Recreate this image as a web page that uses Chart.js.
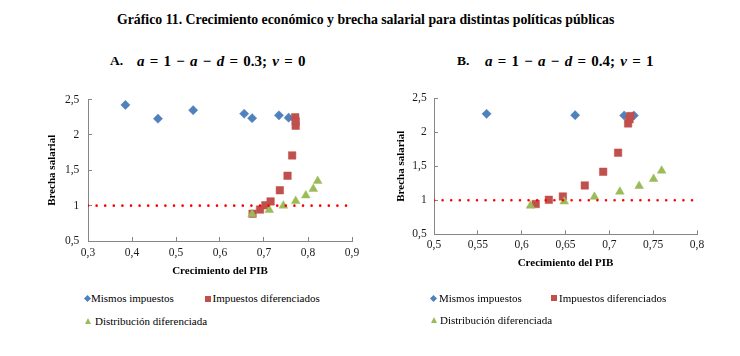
<!DOCTYPE html>
<html>
<head>
<meta charset="utf-8">
<script src="https://cdn.jsdelivr.net/npm/chart.js@4.4.0/dist/chart.umd.min.js"></script>
<style>
  html,body{margin:0;padding:0;background:#fff;}
  body{width:740px;height:356px;position:relative;overflow:hidden;font-family:"Liberation Serif","Times New Roman",serif;color:#000;}
  .t{position:absolute;white-space:nowrap;}
  #title{left:117px;top:12px;font-size:13.8px;line-height:16px;font-weight:bold;}
  .sub{font-size:13.5px;line-height:18px;font-weight:bold;top:52px;}
  .eq{font-size:15px;line-height:18px;font-weight:bold;top:52px;word-spacing:1.5px;}
  .eq i{font-style:italic;}
  canvas{position:absolute;}
  .leg{position:absolute;font-size:11px;line-height:14px;white-space:nowrap;}
  .mk{position:absolute;}
  .dia{width:5px;height:5px;background:#4F81BD;transform:rotate(45deg);}
  .sq{width:6px;height:6px;background:#C0504D;}
  .tri{width:0;height:0;border-left:3.5px solid transparent;border-right:3.5px solid transparent;border-bottom:6px solid #9BBB59;}
</style>
</head>
<body>
<div class="t" id="title">Gráfico 11. Crecimiento económico y brecha salarial para distintas políticas públicas</div>
<div class="t sub" style="left:110px;">A.</div>
<div class="t eq" style="left:137px;"><i>a</i> = 1 − <i>a</i> − <i>d</i> = 0.3; <i>v</i> = 0</div>
<div class="t sub" style="left:457px;">B.</div>
<div class="t eq" style="left:485px;"><i>a</i> = 1 − <i>a</i> − <i>d</i> = 0.4; <i>v</i> = 1</div>

<canvas id="cA" width="350" height="200" style="left:20px;top:80px;"></canvas>
<canvas id="cB" width="350" height="200" style="left:366px;top:80px;"></canvas>

<!-- legends -->
<div class="mk dia" style="left:85px;top:296px;"></div>
<div class="leg" style="left:91px;top:291px;">Mismos impuestos</div>
<div class="mk sq" style="left:205px;top:295.5px;"></div>
<div class="leg" style="left:212.5px;top:291px;">Impuestos diferenciados</div>
<div class="mk tri" style="left:84.5px;top:317.5px;"></div>
<div class="leg" style="left:95px;top:314px;">Distribución diferenciada</div>

<div class="mk dia" style="left:431px;top:295.5px;"></div>
<div class="leg" style="left:439px;top:291px;">Mismos impuestos</div>
<div class="mk sq" style="left:550.5px;top:295px;"></div>
<div class="leg" style="left:559px;top:291px;">Impuestos diferenciados</div>
<div class="mk tri" style="left:431px;top:316.5px;"></div>
<div class="leg" style="left:440px;top:313px;">Distribución diferenciada</div>

<script>
// ---------- DATA ----------
const seriesNames = ['Mismos impuestos', 'Impuestos diferenciados', 'Distribución diferenciada'];

// Panel A
const mismosA_x = [0.385, 0.459, 0.539, 0.655, 0.673, 0.734, 0.756];
const mismosA_y = [2.425, 2.23, 2.35, 2.30, 2.237, 2.278, 2.244];
const difImpA_x = [0.674, 0.691, 0.703, 0.715, 0.736, 0.7535, 0.764, 0.771, 0.772, 0.772];
const difImpA_y = [0.885, 0.944, 1.005, 1.06, 1.218, 1.423, 1.711, 2.25, 2.19, 2.13];
const difDisA_x = [0.673, 0.712, 0.744, 0.772, 0.795, 0.812, 0.822];
const difDisA_y = [0.88, 0.94, 1.0, 1.066, 1.145, 1.237, 1.35];
const refA_x = [0.3, 0.9];
const refA_y = [1, 1];

// Panel B
const mismosB_x = [0.560, 0.661, 0.717, 0.728];
const mismosB_y = [2.27, 2.25, 2.246, 2.246];
const difImpB_x = [0.616, 0.631, 0.647, 0.672, 0.693, 0.710, 0.7214, 0.723, 0.724];
const difImpB_y = [0.945, 1.007, 1.056, 1.218, 1.419, 1.70, 2.13, 2.19, 2.237];
const difDisB_x = [0.610, 0.6485, 0.683, 0.712, 0.734, 0.7505, 0.7597];
const difDisB_y = [0.92, 0.983, 1.05, 1.126, 1.21, 1.313, 1.435];
const refB_x = [0.5, 0.8];
const refB_y = [1, 1];

// Ticks
const xTicksA = [0.3, 0.4, 0.5, 0.6, 0.7, 0.8, 0.9];
const xLabelsA = ['0,3', '0,4', '0,5', '0,6', '0,7', '0,8', '0,9'];
const xTicksB = [0.5, 0.55, 0.6, 0.65, 0.7, 0.75, 0.8];
const xLabelsB = ['0,5', '0,55', '0,6', '0,65', '0,7', '0,75', '0,8'];
const yTicks = [0.5, 1, 1.5, 2, 2.5];
const yLabels = ['0,5', '1', '1,5', '2', '2,5'];

const xTitle = 'Crecimiento del PIB';
const yTitle = 'Brecha salarial';

// ---------- CHART ----------
const pts = (xs, ys) => xs.map((x, i) => ({x: x, y: ys[i]}));
const SERIF = '"Liberation Serif", "Times New Roman", serif';
const AXIS = '#868686';

function makeChart(id, d, cfg) {
  const datasets = [
    {label: 'ref', data: pts(d.rx, d.ry), showLine: true, borderColor: '#FF0000', borderWidth: 2.6,
     borderDash: [0, 8.6], borderCapStyle: 'round', pointRadius: 0, fill: false, order: 0},
    {label: seriesNames[2], data: pts(d.gx, d.gy), pointStyle: 'triangle', pointRadius: 5,
     backgroundColor: '#9BBB59', borderColor: '#9BBB59', borderWidth: 0.5, order: 1},
    {label: seriesNames[1], data: pts(d.qx, d.qy), pointStyle: 'rect', pointRadius: 5.3,
     backgroundColor: '#C0504D', borderColor: '#C0504D', borderWidth: 0.5, order: 2},
    {label: seriesNames[0], data: pts(d.bx, d.by), pointStyle: 'rectRot', pointRadius: 4.6,
     backgroundColor: '#4F81BD', borderColor: '#4F81BD', borderWidth: 0.5, order: 3}
  ];
  return new Chart(document.getElementById(id), {
    type: 'scatter',
    data: {datasets},
    options: {
      responsive: false, animation: false, devicePixelRatio: 1,
      layout: {padding: cfg.pad},
      plugins: {legend: {display: false}, tooltip: {enabled: false}},
      scales: {
        x: {
          type: 'linear', min: cfg.xTicks[0], max: cfg.xTicks[cfg.xTicks.length - 1],
          afterBuildTicks: s => { s.ticks = cfg.xTicks.map(v => ({value: v})); },
          afterFit: s => { s.height = cfg.xH; },
          ticks: {autoSkip: false, maxRotation: 0, padding: cfg.xPad, color: '#1a1a1a',
                  font: {family: SERIF, size: 11.5},
                  callback: (v, i) => cfg.xLabels[i]},
          grid: {display: true, drawOnChartArea: false, drawTicks: true, tickLength: -4, color: AXIS},
          border: {display: true, color: AXIS, width: 1},
          title: {display: true, text: xTitle, color: '#000', padding: {top: 0, bottom: cfg.xTitlePad},
                  font: {family: SERIF, size: 11, weight: 'bold'}}
        },
        y: {
          type: 'linear', min: 0.5, max: 2.5,
          afterBuildTicks: s => { s.ticks = yTicks.map(v => ({value: v})); },
          afterFit: s => { s.width = 68; },
          ticks: {autoSkip: false, padding: cfg.yPad, color: '#1a1a1a',
                  font: {family: SERIF, size: 11.5},
                  callback: (v, i) => yLabels[i]},
          grid: {display: true, drawOnChartArea: false, drawTicks: true, tickLength: -4, color: AXIS},
          border: {display: true, color: AXIS, width: 1},
          title: {display: true, text: yTitle, color: '#000', padding: {top: cfg.yTitlePad, bottom: 0},
                  font: {family: SERIF, size: 11, weight: 'bold'}}
        }
      }
    }
  });
}

makeChart('cA',
  {rx: refA_x, ry: refA_y, gx: difDisA_x, gy: difDisA_y, qx: difImpA_x, qy: difImpA_y, bx: mismosA_x, by: mismosA_y},
  {pad: {left: 0, right: 18, top: 17, bottom: 0}, xTicks: xTicksA, xLabels: xLabelsA,
   xH: 39, xPad: 9, xTitlePad: 2.7, yPad: 12.7, yTitlePad: 25.4});

makeChart('cB',
  {rx: refB_x, ry: refB_y, gx: difDisB_x, gy: difDisB_y, qx: difImpB_x, qy: difImpB_y, bx: mismosB_x, by: mismosB_y},
  {pad: {left: 0, right: 19, top: 15, bottom: 0}, xTicks: xTicksB, xLabels: xLabelsB,
   xH: 45.7, xPad: 7.8, xTitlePad: 10.1, yPad: 11.3, yTitlePad: 28.1});
</script>
</body>
</html>
